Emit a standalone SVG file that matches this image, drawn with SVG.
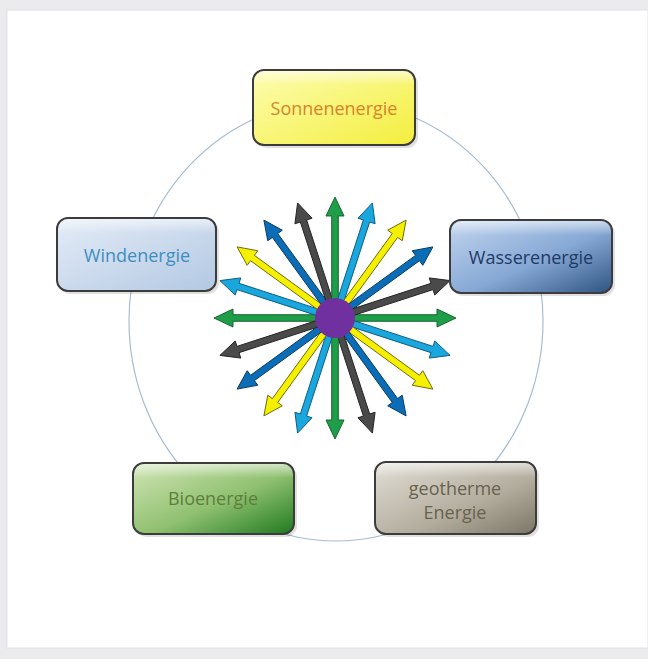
<svg xmlns="http://www.w3.org/2000/svg" xmlns:xlink="http://www.w3.org/1999/xlink" width="648" height="659" viewBox="0 0 648 659">
  <style>
    .box { stroke: #3c3c3c; stroke-width: 2; }
    .shadow { fill: #000; opacity: 0.12; }
    .lbl { font-family: "Open Sans", "Noto Sans", sans-serif; font-size: 18px; text-anchor: middle; }
    .ring { fill: none; stroke: #a7bcd2; stroke-width: 1.2; }
    .arr { stroke-width: 0.9; stroke-linejoin: miter; }
  </style>
  <defs>
    <linearGradient id="gSun" x1="0" y1="0" x2="1" y2="1">
      <stop offset="0" stop-color="#fdfdb0"/>
      <stop offset="1" stop-color="#f3ee3e"/>
    </linearGradient>
    <linearGradient id="gWind" x1="0" y1="0" x2="1" y2="1">
      <stop offset="0" stop-color="#e4ecf7"/>
      <stop offset="1" stop-color="#b3c8e3"/>
    </linearGradient>
    <linearGradient id="gWater" x1="0" y1="0" x2="1" y2="1">
      <stop offset="0" stop-color="#c3d6ef"/>
      <stop offset="0.55" stop-color="#86a8d5"/>
      <stop offset="1" stop-color="#2f5482"/>
    </linearGradient>
    <linearGradient id="gBio" x1="0" y1="0" x2="1" y2="1">
      <stop offset="0" stop-color="#d2e6b6"/>
      <stop offset="0.55" stop-color="#8fc070"/>
      <stop offset="1" stop-color="#1f7a1f"/>
    </linearGradient>
    <linearGradient id="gGeo" x1="0" y1="0" x2="1" y2="1">
      <stop offset="0" stop-color="#e2dfd6"/>
      <stop offset="0.6" stop-color="#b3ad9e"/>
      <stop offset="1" stop-color="#7c7666"/>
    </linearGradient>
    <linearGradient id="gloss" x1="0" y1="0" x2="0" y2="1">
      <stop offset="0" stop-color="#fff" stop-opacity="0.55"/>
      <stop offset="0.2" stop-color="#fff" stop-opacity="0"/>
    </linearGradient>
    <polygon id="dbl" points="121,0 102,-9 102,-3.3 -102,-3.3 -102,-9 -121,0 -102,9 -102,3.3 102,3.3 102,9"/>
  </defs>

  <rect x="0" y="0" width="648" height="659" fill="#ebebed"/>
  <rect x="7" y="10" width="641" height="638" fill="#ffffff" stroke="#e2e2e8" stroke-width="1"/>

  <g id="connectors">
    <ellipse class="ring" cx="336" cy="321" rx="207" ry="220"/>
  </g>

  <g id="starburst" transform="translate(335,318)">
    <use xlink:href="#dbl" class="arr" fill="#1e9e48" stroke="#0d5a26" transform="rotate(0)"/>
    <use xlink:href="#dbl" class="arr" fill="#1aa7de" stroke="#0b5c80" transform="rotate(18)"/>
    <use xlink:href="#dbl" class="arr" fill="#f4f000" stroke="#6e6a10" transform="rotate(36)"/>
    <use xlink:href="#dbl" class="arr" fill="#0b6db6" stroke="#063a62" transform="rotate(54)"/>
    <use xlink:href="#dbl" class="arr" fill="#4a4a4a" stroke="#222222" transform="rotate(72)"/>
    <use xlink:href="#dbl" class="arr" fill="#1e9e48" stroke="#0d5a26" transform="rotate(90)"/>
    <use xlink:href="#dbl" class="arr" fill="#1aa7de" stroke="#0b5c80" transform="rotate(108)"/>
    <use xlink:href="#dbl" class="arr" fill="#f4f000" stroke="#6e6a10" transform="rotate(126)"/>
    <use xlink:href="#dbl" class="arr" fill="#0b6db6" stroke="#063a62" transform="rotate(144)"/>
    <use xlink:href="#dbl" class="arr" fill="#4a4a4a" stroke="#222222" transform="rotate(162)"/>
    <circle cx="0" cy="0" r="20" fill="#7030a0"/>
  </g>

  <g id="sonnenenergie">
    <rect class="shadow" x="256" y="73" width="162" height="75" rx="11"/>
    <rect class="box" x="253" y="70" width="162" height="75" rx="11" fill="url(#gSun)"/>
    <rect x="254" y="71" width="160" height="73" rx="10" fill="url(#gloss)"/>
    <text class="lbl" x="334" y="115" fill="#d8832c">Sonnenenergie</text>
  </g>

  <g id="windenergie">
    <rect class="shadow" x="60" y="221" width="159" height="73" rx="11"/>
    <rect class="box" x="57" y="218" width="159" height="73" rx="11" fill="url(#gWind)"/>
    <rect x="58" y="219" width="157" height="71" rx="10" fill="url(#gloss)"/>
    <text class="lbl" x="137" y="262" fill="#3e8fbf">Windenergie</text>
  </g>

  <g id="wasserenergie">
    <rect class="shadow" x="453" y="223" width="162" height="73" rx="11"/>
    <rect class="box" x="450" y="220" width="162" height="73" rx="11" fill="url(#gWater)"/>
    <rect x="451" y="221" width="160" height="71" rx="10" fill="url(#gloss)"/>
    <text class="lbl" x="531" y="264" fill="#1f3a66">Wasserenergie</text>
  </g>

  <g id="bioenergie">
    <rect class="shadow" x="136" y="466" width="161" height="71" rx="11"/>
    <rect class="box" x="133" y="463" width="161" height="71" rx="11" fill="url(#gBio)"/>
    <rect x="134" y="464" width="159" height="69" rx="10" fill="url(#gloss)"/>
    <text class="lbl" x="213" y="505" fill="#5e7f3c">Bioenergie</text>
  </g>

  <g id="geotherme-energie">
    <rect class="shadow" x="378" y="465" width="161" height="72" rx="11"/>
    <rect class="box" x="375" y="462" width="161" height="72" rx="11" fill="url(#gGeo)"/>
    <rect x="376" y="463" width="159" height="70" rx="10" fill="url(#gloss)"/>
    <text class="lbl" x="455" y="495" fill="#68624e">geotherme</text>
    <text class="lbl" x="455" y="519" fill="#68624e">Energie</text>
  </g>
</svg>
